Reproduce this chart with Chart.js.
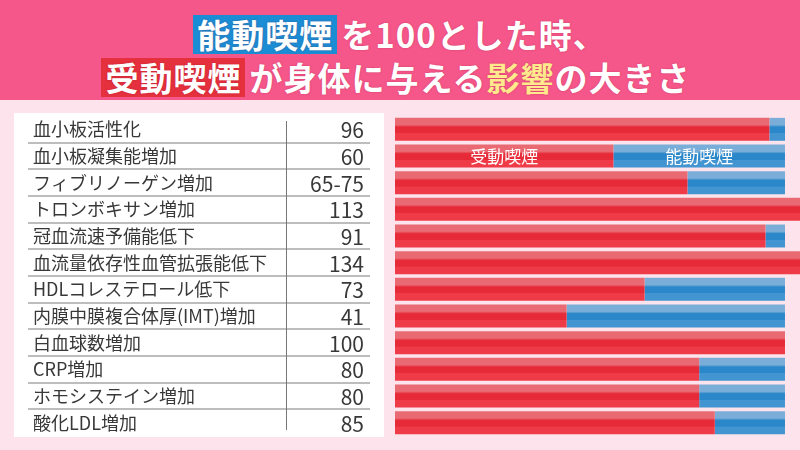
<!DOCTYPE html>
<html lang="ja">
<head>
<meta charset="utf-8">
<script src="https://cdn.jsdelivr.net/npm/chart.js@4.4.1/dist/chart.umd.min.js"></script>
<style>
  html, body { margin: 0; padding: 0; }
  body { width: 800px; height: 450px; overflow: hidden; background: #fde3eb; font-family: "Noto Sans CJK JP", sans-serif; }
  #head { height: 100px; background: #f6578a; color: #fff; font-weight: 700; font-size: 33px; position: relative; }
  .line { position: absolute; left: 0; right: 0; text-align: center; white-space: nowrap; letter-spacing: 1px; text-shadow: 0 0 2px rgba(120,0,40,0.35); }
  .l1 { top: 10px; }
  .l2 { top: 53px; padding-right: 8px; }
  .box { display: inline-block; padding: 0 4px; line-height: 39px; margin-right: 4px; }
  .blue { background: #1a8dd5; }
  .red { background: #e5303d; }
  .yel { color: #ffe98c; }
  #wrap { position: absolute; left: 0; top: 100px; width: 800px; height: 350px; }
</style>
</head>
<body>
<div id="head">
  <div class="line l1"><span class="box blue">能動喫煙</span>を100とした時、</div>
  <div class="line l2"><span class="box red">受動喫煙</span>が身体に与える<span class="yel">影響</span>の大きさ</div>
</div>
<div id="wrap"><canvas id="c"></canvas></div>
<script>
// 項目名と表の数値
const items = ['血小板活性化', '血小板凝集能増加', 'フィブリノーゲン増加', 'トロンボキサン増加', '冠血流速予備能低下',
  '血流量依存性血管拡張能低下', 'HDLコレステロール低下', '内膜中膜複合体厚(IMT)増加', '白血球数増加', 'CRP増加',
  'ホモシステイン増加', '酸化LDL増加'];
const tableValues = ['96', '60', '65-75', '113', '91', '134', '73', '41', '100', '80', '80', '85'];
// バーの長さ
const passive = [96, 56, 75, 113, 95, 134, 64, 44, 100, 78, 78, 82];
const active = [4, 44, 25, 0, 5, 0, 36, 56, 0, 22, 22, 18];
const seriesNames = ['受動喫煙', '能動喫煙'];

function bandFill(ctx, cols) {
  const chart = ctx.chart;
  const y = chart.scales.y;
  if (!y || ctx.dataIndex === undefined) return cols[1];
  const cy = y.getPixelForValue(ctx.dataIndex);
  if (!isFinite(cy)) return cols[1];
  const h = 23;
  const g = chart.ctx.createLinearGradient(0, cy - h / 2, 0, cy + h / 2);
  g.addColorStop(0, cols[0]);
  g.addColorStop(0.3, cols[0]);
  g.addColorStop(0.4, cols[1]);
  g.addColorStop(0.66, cols[1]);
  g.addColorStop(0.68, cols[2]);
  g.addColorStop(1, cols[2]);
  return g;
}

const tablePlugin = {
  id: 'table',
  beforeDraw(chart) {
    const c = chart.ctx;
    const y = chart.scales.y;
    c.save();
    c.fillStyle = '#ffffff';
    c.fillRect(14, 13, 370, 324);
    const step = y.getPixelForValue(1) - y.getPixelForValue(0);
    c.strokeStyle = '#bdbdbd';
    c.lineWidth = 2;
    for (let i = 0; i < items.length - 1; i++) {
      const ly = Math.round(y.getPixelForValue(i) + step / 2);
      c.beginPath(); c.moveTo(28, ly); c.lineTo(370, ly); c.stroke();
    }
    c.strokeStyle = '#777';
    c.lineWidth = 1;
    c.beginPath(); c.moveTo(286.5, 21); c.lineTo(286.5, 330); c.stroke();
    c.fillStyle = '#383838';
    c.textBaseline = 'middle';
    c.font = '18px "Noto Sans CJK JP"';
    items.forEach((t, i) => {
      c.textAlign = 'left';
      c.fillText(t, 33, y.getPixelForValue(i));
    });
    c.font = '21px "Noto Sans CJK JP"';
    tableValues.forEach((t, i) => {
      c.textAlign = 'right';
      c.fillText(t, 364, y.getPixelForValue(i) + 1);
    });
    c.restore();
  }
};

const labelPlugin = {
  id: 'segLabels',
  afterDatasetsDraw(chart) {
    const c = chart.ctx;
    c.save();
    c.fillStyle = '#fff';
    c.font = '17px "Noto Sans CJK JP"';
    c.textAlign = 'center';
    c.textBaseline = 'middle';
    chart.data.datasets.forEach((ds, di) => {
      const el = chart.getDatasetMeta(di).data[1];
      c.fillText(ds.label, (el.x + el.base) / 2, el.y + 1);
    });
    c.restore();
  }
};

new Chart(document.getElementById('c'), {
  type: 'bar',
  data: {
    labels: items,
    datasets: [
      { label: seriesNames[0], data: passive, backgroundColor: ctx => bandFill(ctx, ['#e96a73', '#e62a38', '#ef3b47']) },
      { label: seriesNames[1], data: active, backgroundColor: ctx => bandFill(ctx, ['#7aaed8', '#2a87c9', '#4395d2']) }
    ]
  },
  options: {
    indexAxis: 'y',
    responsive: true,
    maintainAspectRatio: false,
    animation: false,
    layout: { padding: { left: 395, right: 0, top: 16, bottom: 14 } },
    datasets: { bar: { categoryPercentage: 1, barPercentage: 0.86, borderWidth: 0 } },
    scales: {
      x: { stacked: true, min: 0, max: 103.85, display: false },
      y: { stacked: true, display: false }
    },
    plugins: { legend: { display: false }, tooltip: { enabled: false } }
  },
  plugins: [tablePlugin, labelPlugin]
});
</script>
</body>
</html>
